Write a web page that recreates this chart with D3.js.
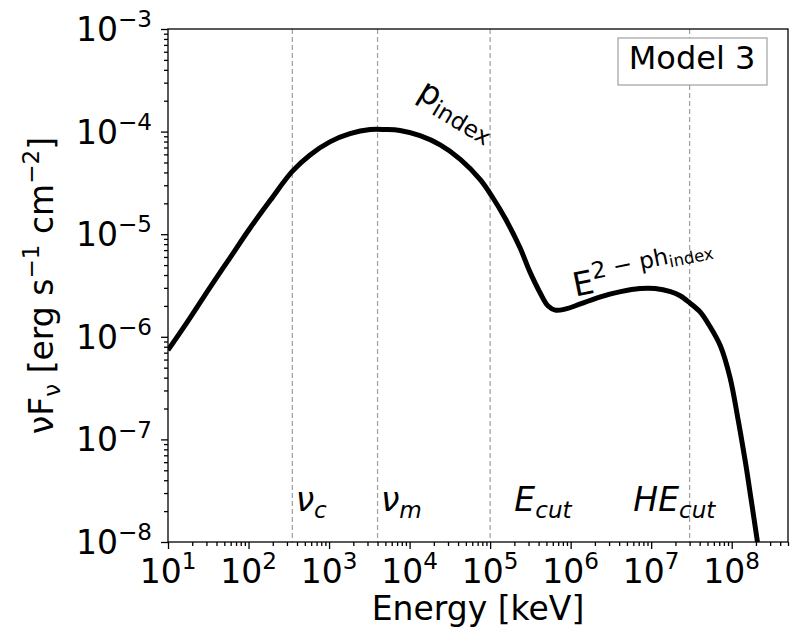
<!DOCTYPE html>
<html>
<head>
<meta charset="utf-8">
<script src="https://cdn.jsdelivr.net/npm/d3@7"></script>
<style>
  body { margin: 0; background: #fff; }
  svg text { font-family: "DejaVu Sans", sans-serif; fill: #000; }
</style>
</head>
<body>
<svg id="chart" width="810" height="634"></svg>
<script>
// curve, as log10 of energy (keV) and log10 of flux
var logEnergy = [1.00, 1.27, 1.52, 1.77, 2.02, 2.27, 2.54, 2.76, 3.01, 3.26, 3.51, 3.70, 3.88, 4.13, 4.38,
                 4.63, 4.88, 5.03, 5.19, 5.37, 5.49, 5.62, 5.72, 5.81, 5.93, 6.12, 6.37, 6.62, 6.86, 7.05,
                 7.24, 7.36, 7.48, 7.61, 7.73, 7.86, 7.98, 8.08, 8.17, 8.24, 8.32];
var logFlux = [-6.13, -5.82, -5.52, -5.23, -4.94, -4.67, -4.39, -4.23, -4.10, -4.02, -3.98, -3.98, -3.99, -4.04, -4.13,
               -4.27, -4.47, -4.64, -4.85, -5.13, -5.36, -5.57, -5.70, -5.74, -5.73, -5.68, -5.61, -5.56, -5.53, -5.53,
               -5.56, -5.60, -5.67, -5.76, -5.90, -6.09, -6.40, -6.81, -7.22, -7.58, -8.00];

// break energies marked with dashed lines, and where their names sit
var breakEnergy = [350, 4000, 1e5, 3e7];
var labelEnergy = [385, 4400, 2e5, 6e6];
var breakName = [["ν", "c"], ["ν", "m"], ["E", "cut"], ["HE", "cut"]];

var xTickPow = [1, 2, 3, 4, 5, 6, 7, 8];
var yTickPow = [-8, -7, -6, -5, -4, -3];

var margin = {top: 29, right: 22, bottom: 92, left: 168};
var width = 810 - margin.left - margin.right;
var height = 634 - margin.top - margin.bottom;
var fs = 33;

var svg = d3.select("#chart");
var g = svg.append("g").attr("transform", "translate(" + margin.left + "," + margin.top + ")");

var x = d3.scaleLog().domain([10, 5e8]).range([0, width]);
var y = d3.scaleLog().domain([1e-8, 1e-3]).range([height, 0]);

svg.append("defs").append("clipPath").attr("id", "plotclip")
  .append("rect").attr("width", width).attr("height", height);

// minor ticks
var xMinor = [], yMinor = [];
for (var p = 1; p <= 8; p++) for (var m = 2; m <= 9; m++) if (m * Math.pow(10, p) <= 5e8) xMinor.push(m * Math.pow(10, p));
for (var q = -8; q < -3; q++) for (var k = 2; k <= 9; k++) yMinor.push(k * Math.pow(10, q));

g.append("g").attr("class", "axis")
  .attr("transform", "translate(0," + height + ")")
  .call(d3.axisBottom(x).tickValues(xMinor).tickSize(4).tickFormat(""));
g.append("g").attr("class", "axis")
  .attr("transform", "translate(0," + height + ")")
  .call(d3.axisBottom(x).tickValues(xTickPow.map(function(d) { return Math.pow(10, d); })).tickSize(7).tickFormat(""));
g.append("g").attr("class", "axis")
  .call(d3.axisLeft(y).tickValues(yMinor).tickSize(4).tickFormat(""));
g.append("g").attr("class", "axis")
  .call(d3.axisLeft(y).tickValues(yTickPow.map(function(d) { return Math.pow(10, d); })).tickSize(7).tickFormat(""));

g.selectAll(".axis .domain").remove();
g.selectAll(".axis line").attr("stroke", "#000").attr("stroke-width", 1.3);

// tick labels
function powLabel(sel, pw) {
  sel.append("tspan").text("10");
  sel.append("tspan").attr("font-size", fs * 0.7).attr("dy", -fs * 0.42)
    .text(pw < 0 ? "\u2212" + (-pw) : "" + pw);
}
xTickPow.forEach(function(pw) {
  var t = g.append("text")
    .attr("x", x(Math.pow(10, pw)))
    .attr("y", height + 41)
    .attr("text-anchor", "middle")
    .attr("font-size", fs);
  powLabel(t, pw);
});
yTickPow.forEach(function(pw) {
  var t = g.append("text")
    .attr("x", -16)
    .attr("y", y(Math.pow(10, pw)) + 12)
    .attr("text-anchor", "end")
    .attr("font-size", fs);
  powLabel(t, pw);
});

// dashed break lines
g.selectAll(".brk")
  .data(breakEnergy)
  .enter().append("line")
  .attr("class", "brk")
  .attr("x1", function(d) { return x(d); })
  .attr("x2", function(d) { return x(d); })
  .attr("y1", 0).attr("y2", height)
  .attr("stroke", "#a0a0a0")
  .attr("stroke-width", 1.2)
  .attr("stroke-dasharray", "5,3");

labelEnergy.forEach(function(e, i) {
  var t = g.append("text")
    .attr("x", x(e))
    .attr("y", y(2e-8))
    .attr("font-size", fs)
    .attr("font-style", "italic");
  t.append("tspan").text(breakName[i][0]);
  t.append("tspan").attr("font-size", fs * 0.7).attr("dy", fs * 0.2).text(breakName[i][1]);
});

// spectrum
var pts = logEnergy.map(function(d, i) { return [Math.pow(10, d), Math.pow(10, logFlux[i])]; });
var line = d3.line()
  .x(function(d) { return x(d[0]); })
  .y(function(d) { return y(d[1]); })
  .curve(d3.curveCatmullRom.alpha(0.5));

g.append("path")
  .datum(pts)
  .attr("clip-path", "url(#plotclip)")
  .attr("d", line)
  .attr("fill", "none")
  .attr("stroke", "#000")
  .attr("stroke-width", 5)
  .attr("stroke-linejoin", "round");

// segment annotations
var pLab = g.append("text")
  .attr("transform", "translate(" + x(1.2e4) + "," + y(2.17e-4) + ") rotate(31)")
  .attr("font-size", fs);
pLab.append("tspan").text("p");
pLab.append("tspan").attr("font-size", fs * 0.7).attr("dy", fs * 0.2).text("index");

var eLab = g.append("text")
  .attr("transform", "translate(" + x(1.14e6) + "," + y(2.45e-6) + ") rotate(-11.5)")
  .attr("font-size", fs);
eLab.append("tspan").text("E");
eLab.append("tspan").attr("font-size", fs * 0.7).attr("dy", -fs * 0.42).text("2 \u2212 ph");
eLab.append("tspan").attr("font-size", fs * 0.5).attr("dy", fs * 0.12).text("index");

// frame
g.append("rect")
  .attr("width", width).attr("height", height)
  .attr("fill", "none").attr("stroke", "#000").attr("stroke-width", 1.3);

// model box
g.append("rect")
  .attr("x", 618 - margin.left).attr("y", 38 - margin.top)
  .attr("width", 149).attr("height", 47)
  .attr("fill", "#fff").attr("stroke", "#a0a0a0").attr("stroke-width", 1.2);
g.append("text")
  .attr("x", 692 - margin.left).attr("y", 69 - margin.top)
  .attr("text-anchor", "middle")
  .attr("font-size", fs * 0.97)
  .text("Model 3");

// axis titles
svg.append("text")
  .attr("x", margin.left + width / 2)
  .attr("y", 620)
  .attr("text-anchor", "middle")
  .attr("font-size", fs)
  .text("Energy [keV]");

var yl = svg.append("text")
  .attr("transform", "translate(53," + (margin.top + height / 2) + ") rotate(-90)")
  .attr("text-anchor", "middle")
  .attr("font-size", fs);
yl.append("tspan").text("νF");
yl.append("tspan").attr("font-size", fs * 0.7).attr("dy", fs * 0.2).text("ν");
yl.append("tspan").attr("dy", -fs * 0.2).text(" [erg s");
yl.append("tspan").attr("font-size", fs * 0.7).attr("dy", -fs * 0.42).text("\u22121");
yl.append("tspan").attr("dy", fs * 0.42).text(" cm");
yl.append("tspan").attr("font-size", fs * 0.7).attr("dy", -fs * 0.42).text("\u22122");
yl.append("tspan").attr("dy", fs * 0.42).text("]");
</script>
</body>
</html>
